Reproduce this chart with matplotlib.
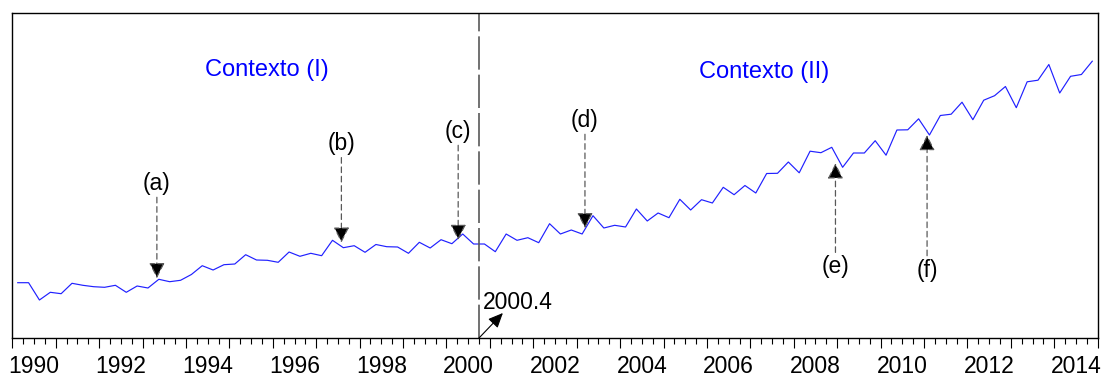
import numpy as np
import matplotlib.pyplot as plt

plt.rcParams['font.family'] = ['Liberation Sans', 'DejaVu Sans']

# serie trimestral 1990T1 - 2014T4 (escala arbitraria)
valores = [
    55.3, 55.3, 38.0, 45.7, 44.3, 54.7, 52.7, 51.3, 50.7, 52.7,
    45.7, 52.0, 50.0, 58.7, 56.3, 57.7, 63.5, 72.3, 68.0, 73.3,
    74.0, 83.3, 78.0, 77.7, 75.7, 86.0, 81.7, 84.7, 82.3, 97.7,
    90.3, 92.3, 85.7, 93.5, 91.3, 91.0, 84.7, 95.7, 90.0, 98.3,
    94.3, 104.0, 94.0, 94.0, 86.3, 104.0, 97.7, 100.3, 95.3, 114.3,
    104.0, 108.0, 104.0, 122.3, 110.0, 112.7, 111.0, 129.0, 117.0, 125.0,
    120.3, 138.7, 128.0, 138.3, 135.0, 150.7, 143.3, 152.5, 145.0, 164.5,
    164.7, 176.0, 165.2, 186.8, 185.3, 190.7, 170.7, 185.0, 185.0, 197.3,
    182.8, 208.0, 208.2, 219.2, 203.0, 222.5, 223.8, 235.8, 218.3, 237.8,
    242.3, 251.5, 230.3, 256.2, 257.8, 273.5, 245.0, 261.7, 263.5, 276.8,
]
inicio = 1990
fin = 2015
quiebre = 2000.75          # 2000.4 -> cuarto trimestre de 2000
anos_etiqueta = list(range(1990, 2015, 2))

# eventos marcados con flechas
eventos = ['(a)', '(b)', '(c)', '(d)', '(e)', '(f)']
evento_x = [1993.33, 1997.58, 2000.27, 2003.19, 2008.96, 2011.07]
evento_punta = [59.7, 95.3, 98.0, 109.7, 174.7, 203.0]
evento_texto_y = [155.0, 194.7, 207.0, 218.0, 71.3, 68.0]

contextos = ['Contexto (I)', 'Contexto (II)']
contexto_x = [1995.86, 2007.31]
contexto_y = [268.0, 266.0]

# ─── figura ───────────────────────────────────────────────────────────────────
fig = plt.figure(figsize=(11.03, 3.78), dpi=100)
ax = fig.add_axes([0.01115, 0.10582, 0.98404, 0.86058])

t = inicio + (np.arange(len(valores)) + 0.5) / 4
ax.plot(t, valores, color='#2020ff', lw=0.85)

ax.set_xlim(inicio, fin)
ax.set_ylim(0, 325.3)
ax.set_yticks([])

for s in ax.spines.values():
    s.set_linewidth(1.0)

ax.set_xticks(np.arange(inicio, fin + 1))
ax.set_xticks(np.arange(inicio, fin + 0.01, 0.25), minor=True)
ax.set_xticklabels([])
ax.tick_params(axis='x', which='major', direction='out', length=7.5, width=0.8)
ax.tick_params(axis='x', which='minor', direction='out', length=4.3, width=0.8)

for a in anos_etiqueta:
    ax.text(a + 0.5, -0.089, str(a), transform=ax.get_xaxis_transform(),
            ha='center', va='center', fontsize=16.5)

# linea de quiebre
ax.axvline(quiebre, color='0.35', lw=1.2, linestyle=(0, (20, 3)))
ax.annotate('', xy=(quiebre + 0.55, 25), xytext=(quiebre, 0),
            arrowprops=dict(arrowstyle='-|>,head_length=0.9,head_width=0.4',
                            mutation_scale=10, color='black', lw=0.8,
                            shrinkA=0, shrinkB=0))
ax.text(quiebre + 0.1, 36, '2000.4', ha='left', va='center', fontsize=16.5)

# flechas de eventos
for lbl, x, punta, ty in zip(eventos, evento_x, evento_punta, evento_texto_y):
    ax.annotate(lbl, xy=(x, punta), xytext=(x, ty), ha='center', va='center',
                fontsize=16.5,
                arrowprops=dict(arrowstyle='-|>,head_length=0.95,head_width=0.48',
                                mutation_scale=10, linestyle=(0, (4.5, 3)),
                                lw=0.9, edgecolor='0.35', facecolor='black',
                                shrinkA=0, shrinkB=0))

for txt, x, y in zip(contextos, contexto_x, contexto_y):
    ax.text(x, y, txt, color='blue', ha='center', va='center', fontsize=17)

fig.savefig('out.png', dpi=100)
